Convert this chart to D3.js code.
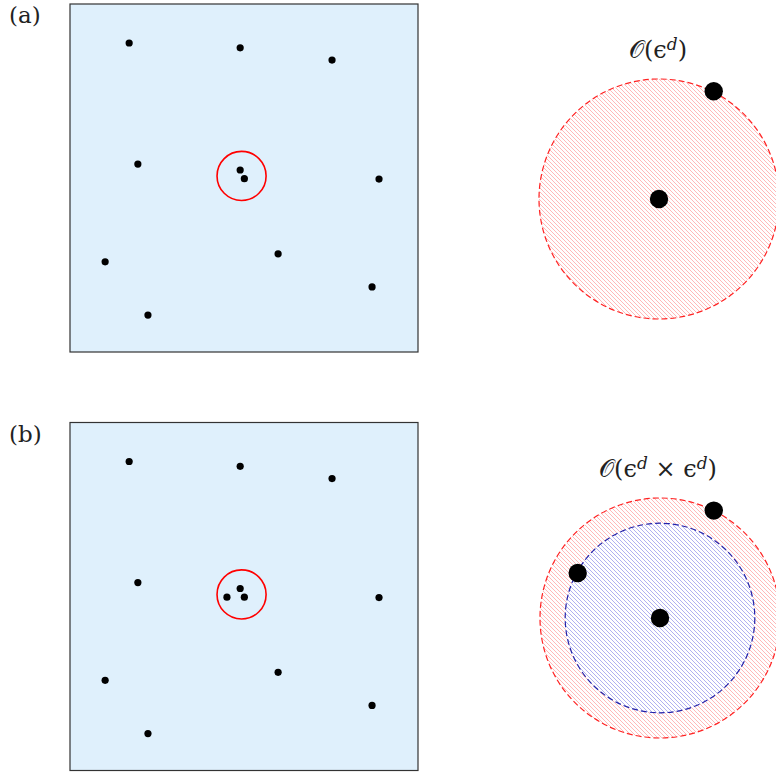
<!DOCTYPE html>
<html>
<head>
<meta charset="utf-8">
<script src="https://cdn.jsdelivr.net/npm/d3@7"></script>
<style>
  html, body { margin: 0; padding: 0; background: #fff; }
  svg { display: block; }
  .lbl { font-family: "DejaVu Serif", "Liberation Serif", serif; fill: #222; }
</style>
</head>
<body>
<div id="chart"></div>
<script>
// Sample points in the unit square (x right, y up)
const pointsX = [0.170, 0.489, 0.753, 0.195, 0.489, 0.501, 0.888, 0.101, 0.598, 0.868, 0.224];
const pointsY = [0.888, 0.874, 0.839, 0.540, 0.523, 0.498, 0.497, 0.259, 0.282, 0.187, 0.106];
// Extra point that lands inside the neighbourhood in panel (b)
const extraX = [0.451];
const extraY = [0.498];
// Neighbourhood circle around the close pair
const nbhdCenter = [0.493, 0.506];
const nbhdRadius = 0.0705;

// Zoomed-in schematic (unit = outer radius)
const outerRadius = 1.0;
const innerRadius = 0.79;
const zoomDotsA = [[0, 0], [0.456, 0.898]];
const zoomDotsB = [[0, 0], [0.448, 0.895], [-0.686, 0.375]];

const panelLabels = ["(a)", "(b)"];

const W = 776, H = 776;
const svg = d3.select("#chart").append("svg").attr("width", W).attr("height", H);

// Hatch patterns
const defs = svg.append("defs");
function hatch(id, color) {
  const s = 4;
  const p = defs.append("pattern").attr("id", id)
    .attr("patternUnits", "userSpaceOnUse").attr("width", s).attr("height", s);
  p.append("path")
    .attr("d", `M0,0L${s},${s}M${-s},0L0,${s}M${s},${-s}L${2*s},${s}`)
    .attr("stroke", color).attr("stroke-width", 1).attr("fill", "none");
}
hatch("hatchRed", "rgba(255,70,70,0.38)");
hatch("hatchBlue", "rgba(70,70,220,0.42)");

const panels = [
  { top: 4, bottom: 352, extra: false, zc: [659, 199], dots: zoomDotsA, inner: false,
    title: [["𝒪(ϵ", false], ["d", true], [")", false]] },
  { top: 422.5, bottom: 770.5, extra: true, zc: [660, 618], dots: zoomDotsB, inner: true,
    title: [["𝒪(ϵ", false], ["d", true], [" × ϵ", false], ["d", true], [")", false]] }
];

panels.forEach((pn, i) => {
  const x = d3.scaleLinear().domain([0, 1]).range([70, 418]);
  const y = d3.scaleLinear().domain([0, 1]).range([pn.bottom, pn.top]);
  const g = svg.append("g");

  g.append("rect")
    .attr("x", x(0)).attr("y", y(1))
    .attr("width", x(1) - x(0)).attr("height", y(0) - y(1))
    .attr("fill", "#dff0fc").attr("stroke", "#333").attr("stroke-width", 1.2);

  const xs = pn.extra ? pointsX.concat(extraX) : pointsX;
  const ys = pn.extra ? pointsY.concat(extraY) : pointsY;
  g.selectAll("circle.pt").data(d3.range(xs.length)).join("circle")
    .attr("class", "pt")
    .attr("cx", k => x(xs[k])).attr("cy", k => y(ys[k]))
    .attr("r", 3.6).attr("fill", "#000");

  g.append("circle")
    .attr("cx", x(nbhdCenter[0])).attr("cy", y(nbhdCenter[1]))
    .attr("r", x(nbhdRadius) - x(0))
    .attr("fill", "none").attr("stroke", "#f00").attr("stroke-width", 1.6);

  svg.append("text").attr("class", "lbl")
    .attr("x", 9).attr("y", pn.top + 19)
    .attr("font-size", 23).text(panelLabels[i]);

  // Zoomed schematic
  const zx = d3.scaleLinear().domain([-1, 1]).range([pn.zc[0] - 120, pn.zc[0] + 120]);
  const zy = d3.scaleLinear().domain([-1, 1]).range([pn.zc[1] + 120, pn.zc[1] - 120]);
  const zr = v => zx(v) - zx(0);

  svg.append("circle")
    .attr("cx", zx(0)).attr("cy", zy(0)).attr("r", zr(outerRadius))
    .attr("fill", "url(#hatchRed)").attr("stroke", "#f22")
    .attr("stroke-width", 1.2).attr("stroke-dasharray", "6,3");
  if (pn.inner) {
    svg.append("circle")
      .attr("cx", zx(0)).attr("cy", zy(0)).attr("r", zr(innerRadius))
      .attr("fill", "#fff");
    svg.append("circle")
      .attr("cx", zx(0)).attr("cy", zy(0)).attr("r", zr(innerRadius))
      .attr("fill", "url(#hatchBlue)").attr("stroke", "#22a")
      .attr("stroke-width", 1.2).attr("stroke-dasharray", "6,3");
  }
  svg.selectAll(null).data(pn.dots).join("circle")
    .attr("cx", d => zx(d[0])).attr("cy", d => zy(d[1]))
    .attr("r", 9.2).attr("fill", "#000");

  const t = svg.append("text").attr("class", "lbl")
    .attr("x", 658).attr("y", pn.top + 54)
    .attr("text-anchor", "middle").attr("font-size", 24);
  pn.title.forEach(([s, sup]) => {
    const ts = t.append("tspan").text(s);
    if (sup) ts.attr("font-size", 17).attr("font-style", "italic").attr("baseline-shift", "45%");
  });
});
</script>
</body>
</html>
